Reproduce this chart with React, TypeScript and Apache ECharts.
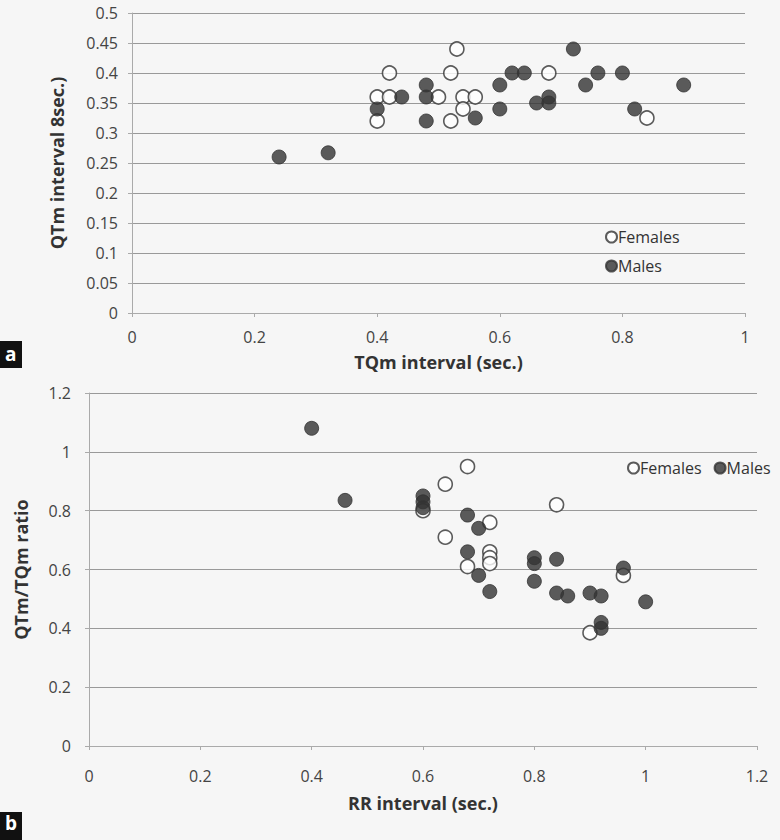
import React, { useEffect, useRef } from "react";
import * as echarts from "echarts";

// Panel a: TQm interval (x) vs QTm interval (y)
const topFemales: number[][] = [
  [0.40, 0.36], [0.40, 0.32], [0.42, 0.40], [0.42, 0.36], [0.50, 0.36],
  [0.52, 0.40], [0.52, 0.32], [0.53, 0.44], [0.54, 0.36], [0.54, 0.34],
  [0.56, 0.36], [0.68, 0.40], [0.84, 0.325],
];
const topMales: number[][] = [
  [0.24, 0.26], [0.32, 0.267], [0.40, 0.34], [0.44, 0.36], [0.48, 0.38],
  [0.48, 0.36], [0.48, 0.32], [0.56, 0.325], [0.60, 0.38], [0.60, 0.34],
  [0.62, 0.40], [0.64, 0.40], [0.66, 0.35], [0.68, 0.36], [0.68, 0.35],
  [0.72, 0.44], [0.74, 0.38], [0.76, 0.40], [0.80, 0.40], [0.82, 0.34],
  [0.90, 0.38],
];
// Panel b: RR interval (x) vs QTm/TQm ratio (y)
const bottomFemales: number[][] = [
  [0.60, 0.80], [0.64, 0.89], [0.68, 0.95], [0.72, 0.76], [0.64, 0.71],
  [0.68, 0.61], [0.72, 0.66], [0.72, 0.64], [0.72, 0.62], [0.84, 0.82],
  [0.90, 0.385], [0.96, 0.58],
];
const bottomMales: number[][] = [
  [0.40, 1.08], [0.46, 0.835], [0.60, 0.85], [0.60, 0.83], [0.60, 0.81],
  [0.68, 0.785], [0.70, 0.74], [0.68, 0.66], [0.70, 0.58], [0.72, 0.525],
  [0.80, 0.64], [0.80, 0.62], [0.80, 0.56], [0.84, 0.635], [0.84, 0.52],
  [0.86, 0.51], [0.90, 0.52], [0.92, 0.51], [0.92, 0.42], [0.92, 0.40],
  [0.96, 0.605], [1.0, 0.49],
];
const seriesNames = ["Females", "Males"];
const topXTitle = "TQm interval (sec.)";
const topYTitle = "QTm interval 8sec.)";
const bottomXTitle = "RR interval (sec.)";
const bottomYTitle = "QTm/TQm ratio";

const FONT = "Open Sans";
const DARK = "#333333";

const fmt = (v: number) => String(+v.toFixed(2));

function axisCommon(extra: any) {
  return {
    type: "value",
    nameLocation: "middle",
    nameTextStyle: { fontFamily: FONT, fontSize: 18, fontWeight: "bold", color: "#333" },
    axisLine: { show: true, onZero: false, lineStyle: { color: "#aaa", width: 1 } },
    axisTick: { show: true, inside: false, length: 4, lineStyle: { color: "#aaa" } },
    ...extra,
  };
}

export default function App() {
  const ref = useRef<HTMLDivElement>(null);
  useEffect(() => {
    const chart = echarts.init(ref.current!, null, { renderer: "svg" });
    const openStyle = { color: "#ffffff", borderColor: DARK, borderWidth: 1.6 };
    const fillStyle = { color: DARK, borderColor: DARK, borderWidth: 1 };
    const label = (margin: number) => ({ fontFamily: FONT, fontSize: 16, color: "#444", formatter: fmt, margin });
    chart.setOption({
      animation: false,
      backgroundColor: "#f6f6f6",
      grid: [
        { left: 132, top: 13, width: 613, height: 300 },
        { left: 89, top: 393, width: 668, height: 353 },
      ],
      xAxis: [
        axisCommon({
          gridIndex: 0, min: 0, max: 1, interval: 0.2,
          name: topXTitle, nameGap: 40,
          splitLine: { show: false },
          axisLabel: label(16),
        }),
        axisCommon({
          gridIndex: 1, min: 0, max: 1.2, interval: 0.2,
          name: bottomXTitle, nameGap: 48,
          splitLine: { show: false },
          axisLabel: label(22),
        }),
      ],
      yAxis: [
        axisCommon({
          gridIndex: 0, min: 0, max: 0.5, interval: 0.05,
          name: topYTitle, nameGap: 66,
          splitLine: { show: true, lineStyle: { color: "#999", width: 1 } },
          axisLabel: label(14),
        }),
        axisCommon({
          gridIndex: 1, min: 0, max: 1.2, interval: 0.2,
          name: bottomYTitle, nameGap: 59,
          splitLine: { show: true, lineStyle: { color: "#999", width: 1 } },
          axisLabel: label(18),
        }),
      ],
      legend: [
        {
          data: seriesNames, orient: "vertical", left: 600, top: 224,
          itemWidth: 11, itemHeight: 11, itemGap: 13,
          textStyle: { fontFamily: FONT, fontSize: 16, color: "#333", padding: [0, 0, 0, -4] },
          icon: "circle",
        },
        {
          data: seriesNames, orient: "horizontal", left: 622, top: 455,
          itemWidth: 11, itemHeight: 11, itemGap: 12,
          textStyle: { fontFamily: FONT, fontSize: 16, color: "#333", padding: [0, 0, 0, -4] },
          icon: "circle",
        },
      ],
      series: [
        { name: seriesNames[0], type: "scatter", xAxisIndex: 0, yAxisIndex: 0, data: topFemales, symbolSize: 14, itemStyle: openStyle },
        { name: seriesNames[1], type: "scatter", xAxisIndex: 0, yAxisIndex: 0, data: topMales, symbolSize: 14, itemStyle: fillStyle },
        { name: seriesNames[0], type: "scatter", xAxisIndex: 1, yAxisIndex: 1, data: bottomFemales, symbolSize: 14, itemStyle: openStyle },
        { name: seriesNames[1], type: "scatter", xAxisIndex: 1, yAxisIndex: 1, data: bottomMales, symbolSize: 14, itemStyle: fillStyle },
      ],
      graphic: [
        { type: "rect", left: 0, top: 341, shape: { width: 22, height: 27 }, style: { fill: "#111" } },
        { type: "text", left: 5, top: 344, style: { text: "a", fill: "#fff", font: "bold 19px 'Open Sans'" } },
        { type: "rect", left: 0, top: 812, shape: { width: 22, height: 28 }, style: { fill: "#111" } },
        { type: "text", left: 5, top: 813, style: { text: "b", fill: "#fff", font: "bold 19px 'Open Sans'" } },
      ],
    });
    return () => chart.dispose();
  }, []);
  return (
    <div
      ref={ref}
      style={{ position: "absolute", left: 0, top: 0, width: 780, height: 840 }}
    />
  );
}
